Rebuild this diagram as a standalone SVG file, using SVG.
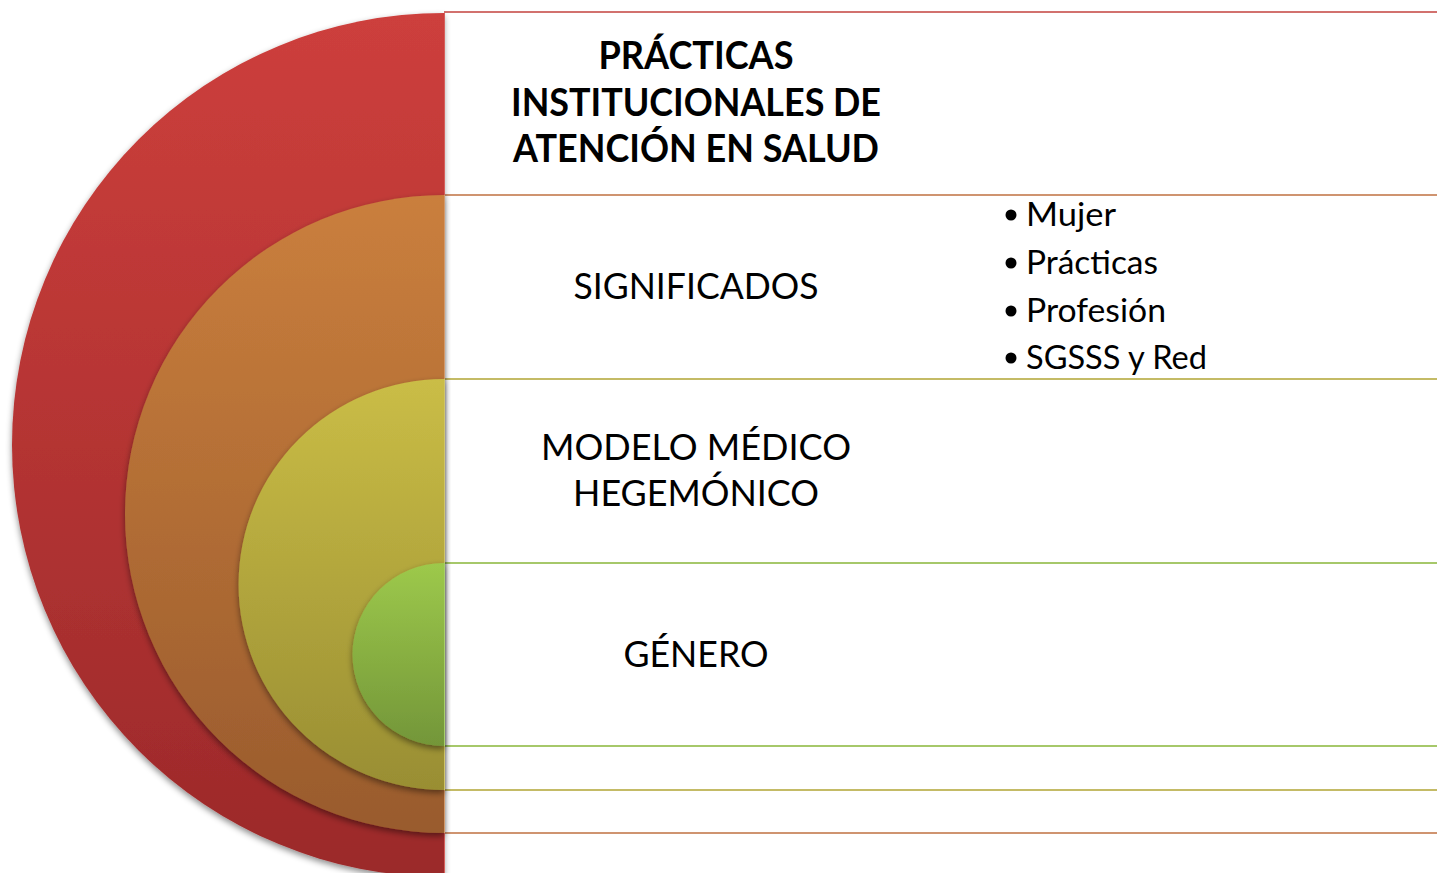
<svg xmlns="http://www.w3.org/2000/svg" width="1437" height="873" viewBox="0 0 1437 873">
<style>
.lbl{font-family:Lato,"Open Sans","Liberation Sans",sans-serif;font-size:36px;fill:#000;text-anchor:middle}
.ttl{font-family:Lato,"Open Sans","Liberation Sans",sans-serif;font-size:39px;font-weight:bold;fill:#000;text-anchor:middle}
.blt{font-family:Lato,"Open Sans","Liberation Sans",sans-serif;font-size:32px;fill:#000}
.div{stroke-width:2;fill:none}
.dot{fill:#000}
</style>
<defs>
<linearGradient id="gR" x1="0" y1="0" x2="0" y2="1"><stop offset="0" stop-color="#cd3f3c"/><stop offset="1" stop-color="#9b292a"/></linearGradient>
<linearGradient id="gO" x1="0" y1="0" x2="0" y2="1"><stop offset="0" stop-color="#ca7f3d"/><stop offset="1" stop-color="#995b2d"/></linearGradient>
<linearGradient id="gY" x1="0" y1="0" x2="0" y2="1"><stop offset="0" stop-color="#cabd46"/><stop offset="1" stop-color="#998e33"/></linearGradient>
<linearGradient id="gG" x1="0" y1="0" x2="0" y2="1"><stop offset="0" stop-color="#9dc94b"/><stop offset="1" stop-color="#739639"/></linearGradient>
<filter id="sh" x="-10%" y="-10%" width="120%" height="125%"><feDropShadow dx="0" dy="3" stdDeviation="3" flood-color="#000" flood-opacity="0.45"/></filter>
</defs>
<rect width="1437" height="873" fill="#fff"/>
<g id="dividers">
<line class="div" x1="444" y1="12" x2="1437" y2="12" stroke="#d2716e"/>
<line class="div" x1="444" y1="195" x2="1437" y2="195" stroke="#cf9470"/>
<line class="div" x1="444" y1="379" x2="1437" y2="379" stroke="#c4bb66"/>
<line class="div" x1="444" y1="563" x2="1437" y2="563" stroke="#a6c86a"/>
<line class="div" x1="444" y1="746" x2="1437" y2="746" stroke="#a6c86a"/>
<line class="div" x1="444" y1="790" x2="1437" y2="790" stroke="#c4bb66"/>
<line class="div" x1="444" y1="833" x2="1437" y2="833" stroke="#cf9470"/>
</g>
<g id="node-practicas">
<path d="M444,13 A432,432 0 0 0 444,877 Z" fill="url(#gR)" filter="url(#sh)"/>
<line x1="444.5" y1="13" x2="444.5" y2="873" stroke="#d6605c" stroke-width="1"/>
<text class="ttl" x="696" y="69" textLength="195" lengthAdjust="spacingAndGlyphs">PRÁCTICAS</text>
<text class="ttl" x="696" y="116" textLength="370" lengthAdjust="spacingAndGlyphs">INSTITUCIONALES DE</text>
<text class="ttl" x="696" y="162" textLength="366" lengthAdjust="spacingAndGlyphs">ATENCIÓN EN SALUD</text>
</g>
<g id="node-significados">
<path d="M444,195 A319,319 0 0 0 444,833 Z" fill="url(#gO)" filter="url(#sh)"/>
<line x1="444.5" y1="195" x2="444.5" y2="833" stroke="#d29a6c" stroke-width="1"/>
<text class="lbl" x="696" y="299" textLength="245" lengthAdjust="spacingAndGlyphs">SIGNIFICADOS</text>
<g id="bullets">
<circle class="dot" cx="1011" cy="215" r="5.5"/>
<text class="blt" x="1026" y="226" textLength="90" lengthAdjust="spacingAndGlyphs">Mujer</text>
<circle class="dot" cx="1011" cy="263" r="5.5"/>
<text class="blt" x="1026" y="274" textLength="132" lengthAdjust="spacingAndGlyphs">Prácticas</text>
<circle class="dot" cx="1011" cy="311" r="5.5"/>
<text class="blt" x="1026" y="322" textLength="140" lengthAdjust="spacingAndGlyphs">Profesión</text>
<circle class="dot" cx="1011" cy="358" r="5.5"/>
<text class="blt" x="1026" y="369" textLength="181" lengthAdjust="spacingAndGlyphs">SGSSS y Red</text>
</g>
</g>
<g id="node-modelo">
<path d="M444,379 A205.5,205.5 0 0 0 444,790 Z" fill="url(#gY)" filter="url(#sh)"/>
<line x1="444.5" y1="379" x2="444.5" y2="790" stroke="#cfc46a" stroke-width="1"/>
<text class="lbl" x="696" y="460" textLength="310" lengthAdjust="spacingAndGlyphs">MODELO MÉDICO</text>
<text class="lbl" x="696" y="506" textLength="246" lengthAdjust="spacingAndGlyphs">HEGEMÓNICO</text>
</g>
<g id="node-genero">
<path d="M444,563 A91.5,91.5 0 0 0 444,746 Z" fill="url(#gG)" filter="url(#sh)"/>
<line x1="444.5" y1="563" x2="444.5" y2="746" stroke="#a8cf6a" stroke-width="1"/>
<text class="lbl" x="696" y="667" textLength="145" lengthAdjust="spacingAndGlyphs">GÉNERO</text>
</g>
</svg>
